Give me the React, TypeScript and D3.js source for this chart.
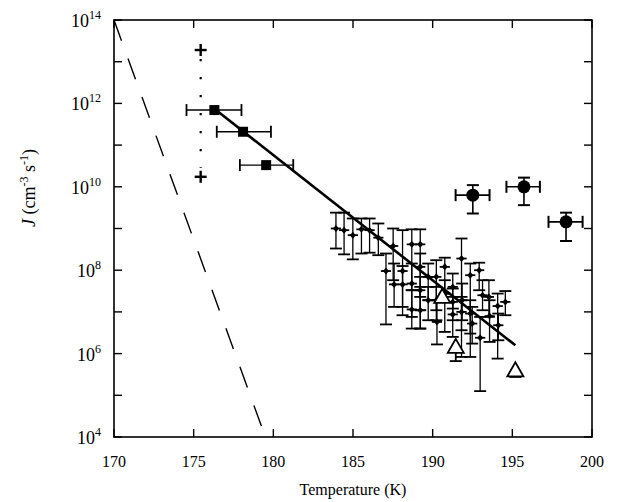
import React from "react";
import * as d3 from "d3";

// ---------- data ----------
const xTicks = [170, 175, 180, 185, 190, 195, 200];
const yMajorExp = [4, 6, 8, 10, 12, 14];
const yMinorExp = [5, 7, 9, 11, 13];

// dashed theory line (T, log10 J)
const dashedT = [170, 179.5];
const dashedLog = [14, 4];

// dotted range near 175 K with plus end markers
const plusT = [175.44, 175.44];
const plusLog = [13.28, 10.24];

// fit line
const fitT = [176.4, 195.19];
const fitLog = [11.84, 6.2];

// squares
const sqT = [176.3, 178.1, 179.55];
const sqLog = [11.84, 11.32, 10.52];
const sqTlo = [174.55, 176.45, 177.9];
const sqThi = [178.0, 179.85, 181.25];

// circles
const ciT = [192.52, 195.73, 198.37];
const ciLog = [9.8, 10.0, 9.16];
const ciTlo = [191.44, 194.63, 197.27];
const ciThi = [193.57, 196.73, 199.41];
const ciLogHi = [10.04, 10.22, 9.38];
const ciLogLo = [9.36, 9.56, 8.7];

// open triangles
const trT = [190.6, 191.45, 195.19];
const trLog = [7.36, 6.16, 5.6];
const trLogLo = [7.3, 5.82, 5.44];

// diamonds (T, log10 J, upper, lower)
const diT = [183.93, 184.44, 184.99, 185.53, 186.04, 186.59, 187.52, 187.07, 187.58, 188.11, 188.69, 189.22, 188.11, 188.69, 188.69, 189.22, 189.22, 189.72, 190.23, 190.27, 190.76, 191.26, 191.26, 191.81, 191.85, 191.81, 192.36, 192.48, 192.92, 192.98, 193.13, 193.53, 193.57, 194.08, 194.12, 194.56, 189.72, 190.76, 190.23, 189.22, 192.36, 191.26];
const diLog = [9.0, 8.96, 8.84, 8.98, 8.96, 8.78, 8.58, 7.98, 7.66, 7.98, 8.62, 8.62, 7.66, 7.68, 7.06, 7.04, 8.08, 7.84, 7.84, 6.76, 8.08, 7.6, 6.94, 8.28, 7.28, 7.0, 7.88, 6.72, 8.0, 6.38, 7.4, 7.36, 6.9, 7.14, 6.68, 7.24, 7.28, 7.44, 7.28, 7.52, 6.96, 7.24];
const diLogHi = [9.38, 9.38, 9.24, 9.24, 9.24, 9.12, 9.0, 8.4, 8.16, 8.96, 8.98, 8.98, 8.1, 8.16, 7.52, 7.6, 8.4, 8.16, 8.24, 7.28, 8.3, 7.92, 7.36, 8.76, 7.68, 7.36, 8.16, 7.12, 8.18, 6.88, 7.76, 7.76, 7.28, 7.44, 6.96, 7.5, 7.6, 7.76, 7.6, 7.84, 7.28, 7.56];
const diLogLo = [8.52, 8.38, 8.26, 8.4, 8.42, 8.36, 7.76, 6.7, 7.12, 6.92, 7.52, 6.6, 7.12, 6.88, 6.6, 6.6, 7.36, 7.28, 7.04, 6.22, 7.44, 7.08, 6.4, 5.92, 6.8, 6.56, 5.92, 6.24, 7.52, 5.1, 7.04, 6.88, 6.28, 5.88, 6.32, 6.92, 6.8, 6.52, 6.8, 7.04, 6.48, 6.8];
const diXerr = 0.32;

// ---------- layout ----------
const W = 631;
const H = 502;
const L = 114, R = 592, T = 20, B = 437;
const FONT = "Liberation Serif, Times New Roman, Times, serif";

export default function App() {
  const x = d3.scaleLinear().domain([170, 200]).range([L, R]);
  const y = d3.scaleLog().domain([1e4, 1e14]).range([B, T]);
  const yl = (v: number) => y(Math.pow(10, v));
  const line = d3
    .line<[number, number]>()
    .x((d) => x(d[0]))
    .y((d) => yl(d[1]));

  const tickLen = 8;

  return (
    <svg width={W} height={H} style={{ position: "absolute", left: 0, top: 0, background: "#fff" }}>
      <rect x={0} y={0} width={W} height={H} fill="#fff" />
      <defs>
        <clipPath id="plotclip">
          <rect x={L} y={T} width={R - L} height={B - T} />
        </clipPath>
      </defs>
      {/* frame */}
      <rect x={L} y={T} width={R - L} height={B - T} fill="none" stroke="#000" strokeWidth={1.6} />
      {/* x ticks */}
      {xTicks.map((t) => (
        <g key={"xt" + t}>
          <line x1={x(t)} x2={x(t)} y1={B} y2={B - tickLen} stroke="#000" strokeWidth={1.4} />
          <line x1={x(t)} x2={x(t)} y1={T} y2={T + tickLen} stroke="#000" strokeWidth={1.4} />
          <text x={x(t)} y={467} textAnchor="middle" fontFamily={FONT} fontSize={16}>
            {t}
          </text>
        </g>
      ))}
      {/* y ticks */}
      {[...yMajorExp, ...yMinorExp].map((e) => (
        <g key={"yt" + e}>
          <line x1={L} x2={L + tickLen} y1={yl(e)} y2={yl(e)} stroke="#000" strokeWidth={1.4} />
          <line x1={R} x2={R - tickLen} y1={yl(e)} y2={yl(e)} stroke="#000" strokeWidth={1.4} />
        </g>
      ))}
      {yMajorExp.map((e) => (
        <text key={"yl" + e} x={101} y={yl(e) + 7} textAnchor="end" fontFamily={FONT} fontSize={18}>
          10
          <tspan fontSize={12} dy={-8}>
            {e}
          </tspan>
        </text>
      ))}
      {/* axis titles */}
      <text x={353} y={495} textAnchor="middle" fontFamily={FONT} fontSize={16}>
        Temperature (K)
      </text>
      <text transform="translate(35,188) rotate(-90)" textAnchor="middle" fontFamily={FONT} fontSize={18}>
        <tspan fontStyle="italic">J</tspan>
        <tspan> (cm</tspan>
        <tspan fontSize={12} dy={-7}>-3</tspan>
        <tspan dy={7}> s</tspan>
        <tspan fontSize={12} dy={-7}>-1</tspan>
        <tspan dy={7}>)</tspan>
      </text>

      <g clipPath="url(#plotclip)">
        {/* dashed line */}
        <path
          d={line(dashedT.map((t, i) => [t, dashedLog[i]] as [number, number])) || ""}
          fill="none"
          stroke="#000"
          strokeWidth={1.4}
          strokeDasharray="22,19"
        />
      </g>
      {/* dotted range */}
      <line
        x1={x(plusT[0])}
        x2={x(plusT[1])}
        y1={yl(plusLog[0]) + 9}
        y2={yl(plusLog[1]) - 9}
        stroke="#000"
        strokeWidth={2.2}
        strokeDasharray="2.2,15.8"
      />
      {plusT.map((t, i) => (
        <g key={"pl" + i} stroke="#000" strokeWidth={2.4}>
          <line x1={x(t) - 6} x2={x(t) + 6} y1={yl(plusLog[i])} y2={yl(plusLog[i])} />
          <line x1={x(t)} x2={x(t)} y1={yl(plusLog[i]) - 6} y2={yl(plusLog[i]) + 6} />
        </g>
      ))}

      {/* diamonds with error bars */}
      {diT.map((t, i) => {
        const cx = x(t);
        const cy = yl(diLog[i]);
        const yh = yl(diLogHi[i]);
        const ylo = yl(diLogLo[i]);
        return (
          <g key={"di" + i} stroke="#000" strokeWidth={1.3}>
            <line x1={cx} x2={cx} y1={yh} y2={ylo} />
            <line x1={cx - 6} x2={cx + 6} y1={yh} y2={yh} strokeWidth={1.8} />
            <line x1={cx - 6} x2={cx + 6} y1={ylo} y2={ylo} strokeWidth={1.8} />
            <line x1={x(t - diXerr)} x2={x(t + diXerr)} y1={cy} y2={cy} strokeWidth={1.8} />
            <path d={`M${cx},${cy - 3.5}L${cx + 3},${cy}L${cx},${cy + 3.5}L${cx - 3},${cy}Z`} fill="#000" stroke="none" />
          </g>
        );
      })}

      {/* fit line */}
      <path
        d={line(fitT.map((t, i) => [t, fitLog[i]] as [number, number])) || ""}
        fill="none"
        stroke="#000"
        strokeWidth={2.6}
      />

      {/* squares */}
      {sqT.map((t, i) => {
        const cx = x(t);
        const cy = yl(sqLog[i]);
        return (
          <g key={"sq" + i} stroke="#000" strokeWidth={1.4}>
            <line x1={x(sqTlo[i])} x2={x(sqThi[i])} y1={cy} y2={cy} />
            <line x1={x(sqTlo[i])} x2={x(sqTlo[i])} y1={cy - 6} y2={cy + 6} strokeWidth={1.8} />
            <line x1={x(sqThi[i])} x2={x(sqThi[i])} y1={cy - 6} y2={cy + 6} strokeWidth={1.8} />
            <rect x={cx - 5} y={cy - 5} width={10} height={10} fill="#000" stroke="none" />
          </g>
        );
      })}

      {/* circles */}
      {ciT.map((t, i) => {
        const cx = x(t);
        const cy = yl(ciLog[i]);
        const yh = yl(ciLogHi[i]);
        const ylo = yl(ciLogLo[i]);
        return (
          <g key={"ci" + i} stroke="#000" strokeWidth={1.6}>
            <line x1={x(ciTlo[i])} x2={x(ciThi[i])} y1={cy} y2={cy} />
            <line x1={x(ciTlo[i])} x2={x(ciTlo[i])} y1={cy - 6} y2={cy + 6} strokeWidth={2} />
            <line x1={x(ciThi[i])} x2={x(ciThi[i])} y1={cy - 6} y2={cy + 6} strokeWidth={2} />
            <line x1={cx} x2={cx} y1={yh} y2={ylo} />
            <line x1={cx - 6} x2={cx + 6} y1={yh} y2={yh} strokeWidth={2} />
            <line x1={cx - 6} x2={cx + 6} y1={ylo} y2={ylo} strokeWidth={2} />
            <circle cx={cx} cy={cy} r={6.5} fill="#000" stroke="none" />
          </g>
        );
      })}

      {/* open triangles */}
      {trT.map((t, i) => {
        const cx = x(t);
        const cy = yl(trLog[i]);
        const ylo = yl(trLogLo[i]);
        return (
          <g key={"tr" + i} stroke="#000" strokeWidth={1.8}>
            <line x1={cx} x2={cx} y1={cy} y2={ylo} />
            <line x1={cx - 6} x2={cx + 6} y1={ylo} y2={ylo} />
            <path d={`M${cx},${cy - 8}L${cx + 8},${cy + 6}L${cx - 8},${cy + 6}Z`} fill="#fff" />
          </g>
        );
      })}
    </svg>
  );
}
